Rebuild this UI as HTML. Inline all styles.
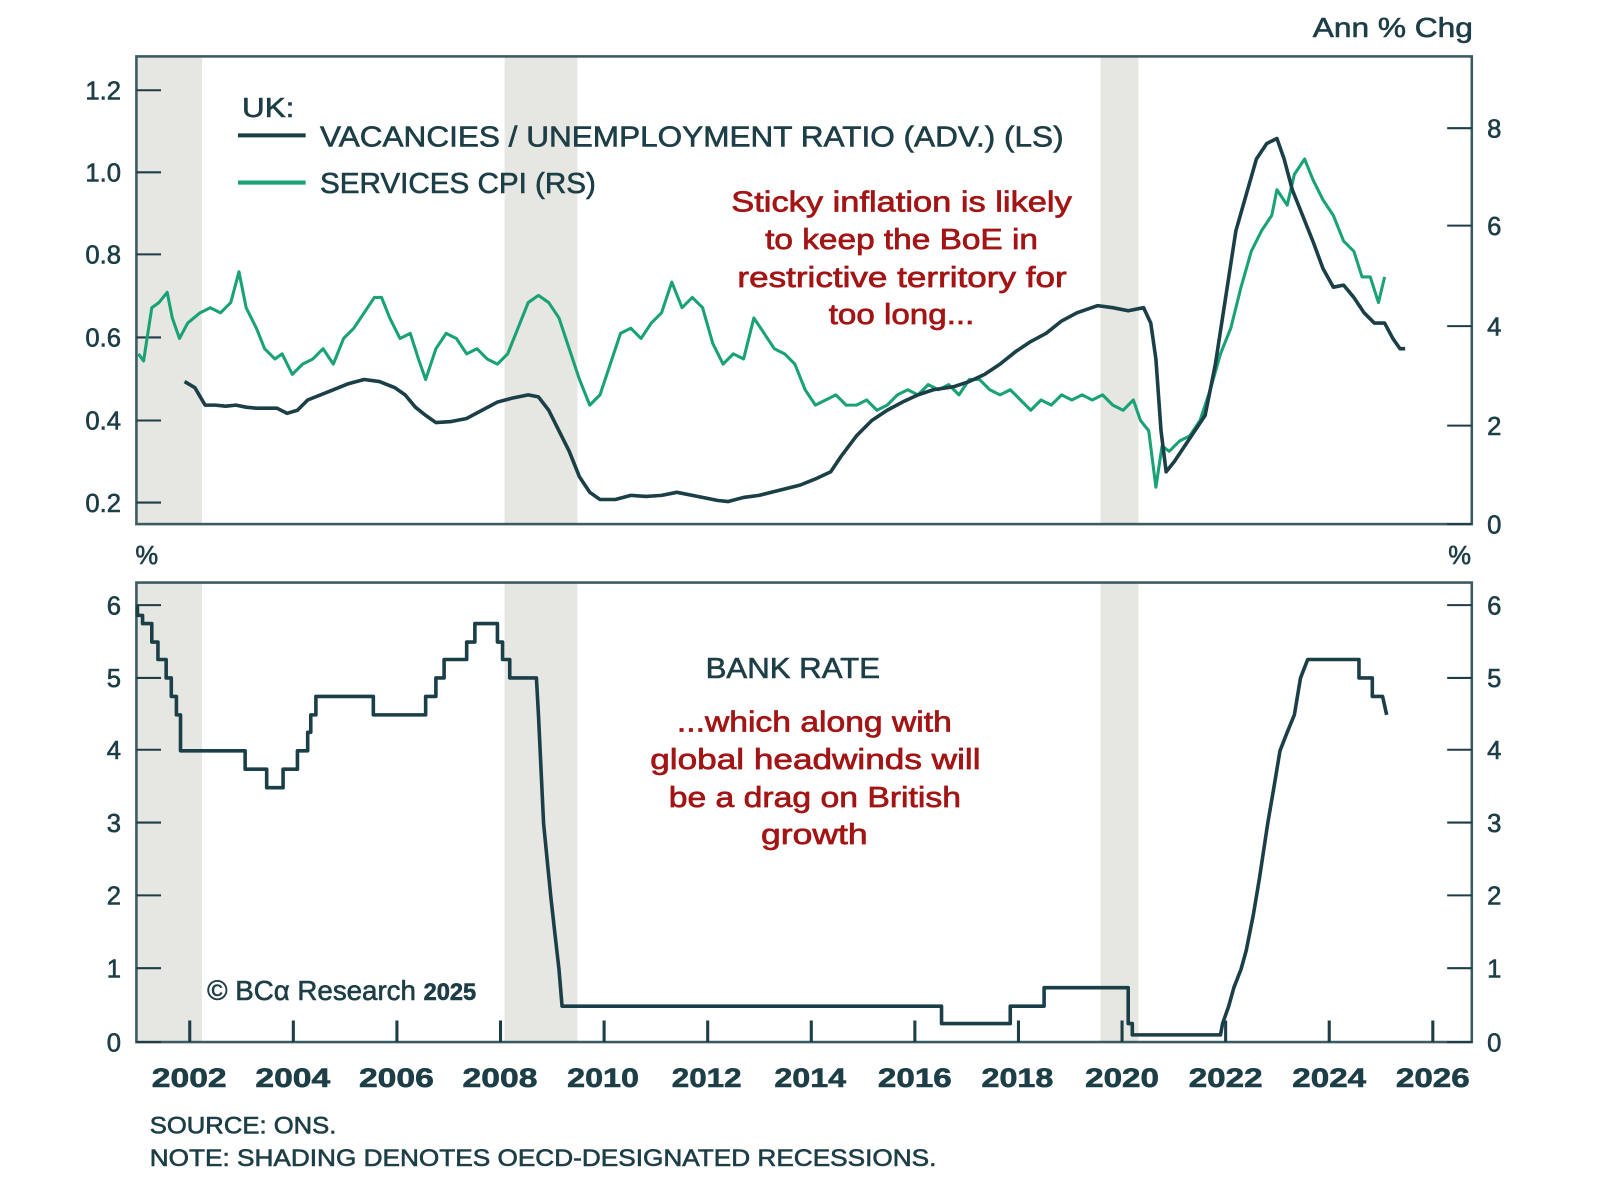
<!DOCTYPE html>
<html><head><meta charset="utf-8"><style>
html,body{margin:0;padding:0;background:#fff;}
svg{display:block;}
text{font-family:"Liberation Sans",sans-serif;fill:#1d3e46;stroke:#1d3e46;stroke-width:0.6;}
.r{fill:#a31515;stroke:#a31515;stroke-width:0.7;}
</style></head><body>
<svg width="1600" height="1200" viewBox="0 0 1560 1170" xmlns="http://www.w3.org/2000/svg">
<g fill="#e6e6e3">
<rect x="134" y="56" width="63" height="455"/><rect x="492" y="56" width="71" height="455"/><rect x="1073" y="56" width="37" height="455"/>
<rect x="134" y="569" width="63" height="447"/><rect x="492" y="569" width="71" height="447"/><rect x="1073" y="569" width="37" height="447"/>
</g>
<g stroke="#3c5a61" stroke-width="2.5" fill="none">
<rect x="133" y="55" width="1302" height="456"/>
<rect x="133" y="568" width="1302" height="448"/>
</g>
<g stroke="#1d3e46" stroke-width="2">
<path d="M133 88H157M133 168H157M133 248H157M133 329H157M133 410H157M133 490H157"/>
<path d="M1411 125H1435M1411 220H1435M1411 318H1435M1411 415H1435M1411 511H1435"/>
<path d="M133 590H157M133 661H157M133 731H157M133 802H157M133 873H157M133 944H157M133 1016H157"/>
<path d="M1411 590H1435M1411 661H1435M1411 731H1435M1411 802H1435M1411 873H1435M1411 944H1435M1411 1016H1435"/>
</g>
<g stroke="#1d3e46" stroke-width="3">
<path d="M185 1016V995M286 1016V995M387 1016V995M488 1016V995M589 1016V995M690 1016V995M791 1016V995M892 1016V995M993 1016V995M1094 1016V995M1195 1016V995M1296 1016V995M1397 1016V995"/>
</g>
<g font-size="25" text-anchor="end">
<text x="118" y="97">1.2</text><text x="118" y="177">1.0</text><text x="118" y="257">0.8</text><text x="118" y="338">0.6</text><text x="118" y="419">0.4</text><text x="118" y="499">0.2</text>
<text x="118" y="599">6</text><text x="118" y="670">5</text><text x="118" y="740">4</text><text x="118" y="811">3</text><text x="118" y="882">2</text><text x="118" y="953">1</text><text x="118" y="1025">0</text>
</g>
<g font-size="25">
<text x="1450" y="134">8</text><text x="1450" y="229">6</text><text x="1450" y="327">4</text><text x="1450" y="424">2</text><text x="1450" y="520">0</text>
<text x="1450" y="599">6</text><text x="1450" y="670">5</text><text x="1450" y="740">4</text><text x="1450" y="811">3</text><text x="1450" y="882">2</text><text x="1450" y="953">1</text><text x="1450" y="1025">0</text>
<text x="132" y="550">%</text><text x="1412" y="550">%</text>
<text x="1280" y="36" font-size="27" textLength="156" lengthAdjust="spacingAndGlyphs">Ann % Chg</text>
</g>
<g font-size="26" font-weight="bold">
<text x="148" y="1060" textLength="73" lengthAdjust="spacingAndGlyphs">2002</text><text x="249" y="1060" textLength="73" lengthAdjust="spacingAndGlyphs">2004</text><text x="350" y="1060" textLength="73" lengthAdjust="spacingAndGlyphs">2006</text><text x="451" y="1060" textLength="73" lengthAdjust="spacingAndGlyphs">2008</text><text x="553" y="1060" textLength="70" lengthAdjust="spacingAndGlyphs">2010</text><text x="655" y="1060" textLength="68" lengthAdjust="spacingAndGlyphs">2012</text><text x="755" y="1060" textLength="70" lengthAdjust="spacingAndGlyphs">2014</text><text x="856" y="1060" textLength="72" lengthAdjust="spacingAndGlyphs">2016</text><text x="957" y="1060" textLength="70" lengthAdjust="spacingAndGlyphs">2018</text><text x="1058" y="1060" textLength="72" lengthAdjust="spacingAndGlyphs">2020</text><text x="1159" y="1060" textLength="72" lengthAdjust="spacingAndGlyphs">2022</text><text x="1260" y="1060" textLength="72" lengthAdjust="spacingAndGlyphs">2024</text><text x="1361" y="1060" textLength="72" lengthAdjust="spacingAndGlyphs">2026</text>
</g>
<text x="146" y="1105" font-size="23" textLength="182" lengthAdjust="spacingAndGlyphs">SOURCE: ONS.</text>
<text x="146" y="1137" font-size="23" textLength="767" lengthAdjust="spacingAndGlyphs">NOTE: SHADING DENOTES OECD-DESIGNATED RECESSIONS.</text>
<text x="236" y="114" font-size="27" textLength="51" lengthAdjust="spacingAndGlyphs">UK:</text>
<path d="M232 132H298" stroke="#1b3f47" stroke-width="4"/>
<path d="M232 178H298" stroke="#1aa277" stroke-width="4"/>
<text x="312" y="143" font-size="28" textLength="725" lengthAdjust="spacingAndGlyphs">VACANCIES / UNEMPLOYMENT RATIO (ADV.) (LS)</text>
<text x="312" y="188" font-size="28" textLength="269" lengthAdjust="spacingAndGlyphs">SERVICES CPI (RS)</text>
<g font-size="28">
<text class="r" x="713" y="206" textLength="332" lengthAdjust="spacingAndGlyphs">Sticky inflation is likely</text>
<text class="r" x="746" y="243" textLength="266" lengthAdjust="spacingAndGlyphs">to keep the BoE in</text>
<text class="r" x="719" y="280" textLength="321" lengthAdjust="spacingAndGlyphs">restrictive territory for</text>
<text class="r" x="808" y="316" textLength="142" lengthAdjust="spacingAndGlyphs">too long...</text>
<text class="r" x="660" y="713" textLength="268" lengthAdjust="spacingAndGlyphs">...which along with</text>
<text class="r" x="634" y="750" textLength="322" lengthAdjust="spacingAndGlyphs">global headwinds will</text>
<text class="r" x="652" y="787" textLength="285" lengthAdjust="spacingAndGlyphs">be a drag on British</text>
<text class="r" x="742" y="823" textLength="104" lengthAdjust="spacingAndGlyphs">growth</text>
</g>
<text x="688" y="661" font-size="28" textLength="170" lengthAdjust="spacingAndGlyphs">BANK RATE</text>
<text x="202" y="975" font-size="27" font-family="Liberation Serif">© BCα Research <tspan font-family="Liberation Sans" font-weight="bold" font-size="23">2025</tspan></text>
<polyline fill="none" stroke="#1aa277" stroke-width="3" stroke-linejoin="round" points="135,345 140,352 148,300 155,295 163,285 168,310 175,330 183,315 195,305 205,300 215,305 225,295 233,265 240,300 250,320 258,340 268,350 275,345 285,365 295,355 305,350 315,340 325,355 335,330 345,320 355,305 365,290 372,290 380,310 390,330 400,325 408,350 415,370 425,340 435,325 445,330 455,345 465,340 475,350 485,355 495,345 505,320 515,295 525,288 535,295 545,310 555,340 565,370 575,395 585,385 595,355 605,325 615,320 625,330 635,315 645,305 655,275 665,300 675,290 685,300 695,335 705,355 715,345 725,350 735,310 745,325 755,340 765,345 775,355 785,380 795,395 805,390 815,385 825,395 835,395 845,390 855,400 865,395 875,385 885,380 895,385 905,375 915,380 925,375 935,385 945,370 955,370 965,380 975,385 985,380 995,390 1005,400 1015,390 1025,395 1035,385 1045,390 1055,385 1065,390 1075,385 1085,395 1095,400 1105,390 1112,410 1120,420 1127,475 1133,435 1140,440 1150,430 1160,425 1170,410 1180,380 1190,345 1200,320 1210,280 1220,245 1230,225 1240,210 1245,185 1255,200 1262,170 1272,155 1280,175 1290,195 1300,210 1310,235 1320,245 1328,270 1336,270 1344,295 1350,270"/>
<polyline fill="none" stroke="#1b3f47" stroke-width="3.5" stroke-linejoin="round" points="180,372 190,378 200,395 210,395 220,396 230,395 240,397 250,398 260,398 270,398 280,403 290,400 300,390 320,382 340,374 355,370 370,372 385,378 395,385 405,397 415,405 425,412 440,411 455,408 470,400 485,392 500,388 515,385 525,387 535,400 545,420 555,440 565,465 575,480 585,487 600,487 615,483 630,484 645,483 660,480 680,484 700,488 710,489 725,485 740,483 760,478 780,473 795,467 810,460 820,445 835,425 850,410 865,400 880,392 895,385 910,380 930,377 945,372 960,365 975,355 990,343 1005,333 1020,325 1035,313 1050,305 1070,298 1085,300 1100,303 1115,300 1122,315 1127,350 1132,420 1137,460 1145,450 1155,435 1165,420 1175,405 1185,355 1195,290 1205,225 1215,190 1225,155 1235,140 1245,135 1252,155 1260,185 1270,210 1280,235 1290,262 1300,280 1310,278 1320,290 1330,305 1340,315 1350,315 1358,330 1365,340 1370,340"/>
<path fill="none" stroke="#1b3f47" stroke-width="3.5" stroke-linejoin="round" d="M134 590V600H139V608H148V626H154V643H162V661H167V679H172V697H176V732H239V750H260V768H276V750H290V732H300V714H303V697H308V679H316V679H364V697H415V679H425V661H433V643H455V626H463V608H485V626H490V643H497V661H523L525 697L530 803L537 874L541 910L545 945L548 981H918V998H985V981H1018V963H1100V998H1104V1009H1190L1192 998L1198 981L1203 963L1210 945L1215 927L1222 892L1228 856L1236 803L1242 768L1248 732L1255 714L1262 697L1268 661L1275 643H1325V661H1338V679H1348L1352 697"/>
</svg>
</body></html>
